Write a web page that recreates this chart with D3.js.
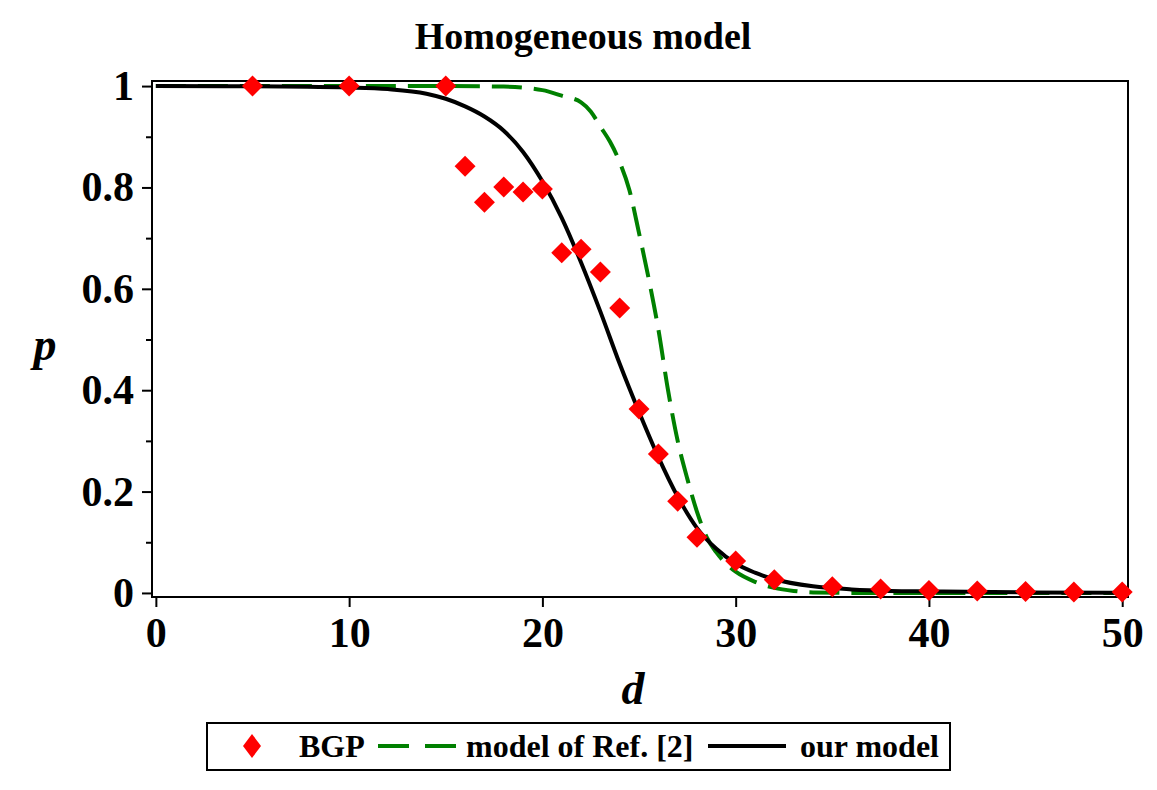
<!DOCTYPE html>
<html>
<head>
<meta charset="utf-8">
<script src="https://cdn.jsdelivr.net/npm/d3@7"></script>
<style>
  body { margin: 0; background: #fff; }
  text { font-family: "Liberation Serif", "Times New Roman", serif; font-weight: bold; }
</style>
</head>
<body>
<svg id="chart" width="1157" height="790"></svg>
<script>
// BGP measurements (red diamonds)
const bgpD = [5, 10, 15, 16, 17, 18, 19, 20, 21, 22, 23, 24, 25, 26, 27, 28, 30, 32, 35, 37.5, 40, 42.5, 45, 47.5, 50];
const bgpP = [1, 1, 1, 0.842, 0.771, 0.801, 0.791, 0.797, 0.671, 0.678, 0.633, 0.562, 0.363, 0.274, 0.181, 0.110, 0.063, 0.026, 0.012, 0.008, 0.005, 0.004, 0.003, 0.002, 0.002];

// model of Ref. [2] (green dashed)
const refD = [0, 10, 15, 18, 20, 21, 22, 22.5, 23, 23.5, 24, 24.5, 25, 25.5, 26, 26.5, 27, 27.5, 28, 28.5, 29, 29.5, 30, 31, 32, 33, 34, 37, 40, 50];
const refP = [1, 1, 1, 0.999, 0.992, 0.981, 0.968, 0.95, 0.92, 0.89, 0.85, 0.795, 0.71, 0.62, 0.52, 0.40, 0.30, 0.225, 0.16, 0.11, 0.08, 0.058, 0.042, 0.022, 0.01, 0.004, 0.001, 0, 0, 0];

// our model (black solid)
const ourD = [0, 5, 10, 12, 14, 15, 16, 17, 18, 19, 20, 21, 22, 23, 24, 25, 26, 27, 28, 29, 30, 31, 32, 34, 36, 38, 40, 45, 50];
const ourP = [1, 0.9995, 0.997, 0.994, 0.985, 0.975, 0.96, 0.94, 0.912, 0.87, 0.812, 0.74, 0.652, 0.555, 0.452, 0.357, 0.268, 0.19, 0.128, 0.087, 0.058, 0.04, 0.027, 0.013, 0.007, 0.004, 0.003, 0.001, 0.0005];

const xTicks = [0, 10, 20, 30, 40, 50];
const yTicks = [0, 0.2, 0.4, 0.6, 0.8, 1];
const yMinor = [0.1, 0.3, 0.5, 0.7, 0.9];

const svg = d3.select('#chart');

const x = d3.scaleLinear().domain([-0.2, 50.3]).range([152, 1128]);
const y = d3.scaleLinear().domain([-0.008, 1.01]).range([597, 81]);

const font = '"Liberation Serif", "Times New Roman", serif';

// title
svg.append('text')
    .attr('x', 583).attr('y', 49)
    .attr('text-anchor', 'middle')
    .style('font-size', '38px')
    .text('Homogeneous model');

// frame
svg.append('rect')
    .attr('x', x.range()[0]).attr('y', y.range()[1])
    .attr('width', x.range()[1] - x.range()[0])
    .attr('height', y.range()[0] - y.range()[1])
    .attr('fill', 'none').attr('stroke', '#000').attr('stroke-width', 2);

// y axis (major + minor)
const yAxis = d3.axisLeft(y).tickValues(yTicks).tickSize(10).tickPadding(8)
    .tickFormat(d => d === 0 || d === 1 ? d3.format('d')(d) : d3.format('.1f')(d));
const yG = svg.append('g').attr('transform', `translate(${x.range()[0]},0)`).call(yAxis);
yG.select('.domain').remove();
yG.selectAll('line').attr('stroke-width', 2);
yG.selectAll('text').style('font-size', '42px').style('font-family', font).style('font-weight', 'bold').attr('fill', '#000');

const yMinorG = svg.append('g').attr('transform', `translate(${x.range()[0]},0)`)
    .call(d3.axisLeft(y).tickValues(yMinor).tickSize(6).tickFormat(''));
yMinorG.select('.domain').remove();
yMinorG.selectAll('line').attr('stroke-width', 2);

// x axis
const xAxis = d3.axisBottom(x).tickValues(xTicks).tickSize(10).tickPadding(10).tickFormat(d3.format('d'));
const xG = svg.append('g').attr('transform', `translate(0,${y.range()[0]})`).call(xAxis);
xG.select('.domain').remove();
xG.selectAll('line').attr('stroke-width', 2);
xG.selectAll('text').style('font-size', '42px').style('font-family', font).style('font-weight', 'bold').attr('fill', '#000');

// axis labels
svg.append('text')
    .attr('x', 633).attr('y', 704)
    .attr('text-anchor', 'middle')
    .style('font-size', '46px').style('font-style', 'italic')
    .text('d');
svg.append('text')
    .attr('x', 45).attr('y', 360)
    .attr('text-anchor', 'middle')
    .style('font-size', '46px').style('font-style', 'italic')
    .text('p');

// lines
const line = d3.line()
    .x(d => x(d[0]))
    .y(d => y(d[1]))
    .curve(d3.curveMonotoneX);

const plot = svg.append('g');

plot.append('path')
    .datum(refD.map((d, i) => [d, refP[i]]))
    .attr('d', line)
    .attr('fill', 'none')
    .attr('stroke', '#008000')
    .attr('stroke-width', 4)
    .attr('stroke-dasharray', '30,12');

plot.append('path')
    .datum(ourD.map((d, i) => [d, ourP[i]]))
    .attr('d', line)
    .attr('fill', 'none')
    .attr('stroke', '#000')
    .attr('stroke-width', 4);

// diamonds
const diamond = d3.symbol().type(d3.symbolSquare).size(220);
plot.selectAll('.bgp')
    .data(bgpD.map((d, i) => [d, bgpP[i]]))
    .join('path')
    .attr('class', 'bgp')
    .attr('d', diamond)
    .attr('transform', d => `translate(${x(d[0])},${y(d[1])}) rotate(45)`)
    .attr('fill', '#ff0000');

// legend
const leg = svg.append('g');
leg.append('rect')
    .attr('x', 207).attr('y', 723).attr('width', 743).attr('height', 47)
    .attr('fill', '#fff').attr('stroke', '#000').attr('stroke-width', 2);
leg.append('path')
    .attr('d', 'M0,-12 L9,0 L0,12 L-9,0 Z')
    .attr('transform', 'translate(252,746)')
    .attr('fill', '#ff0000');
leg.append('text').attr('x', 299).attr('y', 757).style('font-size', '32px').text('BGP');
leg.append('line')
    .attr('x1', 378).attr('x2', 456).attr('y1', 746).attr('y2', 746)
    .attr('stroke', '#008000').attr('stroke-width', 4).attr('stroke-dasharray', '31,16');
leg.append('text').attr('x', 466).attr('y', 757).style('font-size', '32px').text('model of Ref. [2]');
leg.append('line')
    .attr('x1', 708).attr('x2', 786).attr('y1', 746).attr('y2', 746)
    .attr('stroke', '#000').attr('stroke-width', 4);
leg.append('text').attr('x', 800).attr('y', 757).style('font-size', '32px').text('our model');
</script>
</body>
</html>
